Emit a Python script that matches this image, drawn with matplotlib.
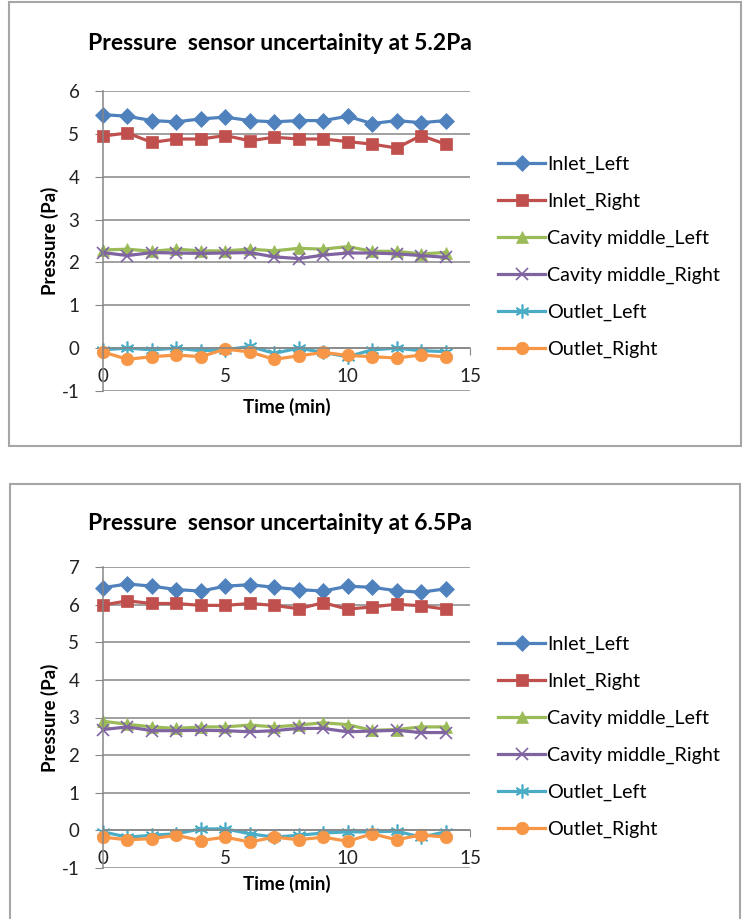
"""Dva Excel-stila grafa: nesigurnost senzora pritiska pri 5.2 Pa i 6.5 Pa."""

import matplotlib
matplotlib.use("Agg")
import matplotlib.pyplot as plt
from matplotlib.patches import Rectangle

plt.rcParams["font.family"] = ["Lato", "DejaVu Sans"]
plt.rcParams["axes.unicode_minus"] = False

vrijeme = list(range(15))
nazivi = ["Inlet_Left", "Inlet_Right", "Cavity middle_Left",
          "Cavity middle_Right", "Outlet_Left", "Outlet_Right"]

# graf 1 - 5.2 Pa
p52_inlet_left = [5.45, 5.41, 5.31, 5.28, 5.35, 5.39, 5.31, 5.28, 5.31, 5.31, 5.41, 5.24, 5.31, 5.26, 5.31]
p52_inlet_right = [4.95, 5.02, 4.80, 4.88, 4.88, 4.96, 4.84, 4.92, 4.88, 4.88, 4.82, 4.76, 4.67, 4.96, 4.76]
p52_cav_left = [2.29, 2.31, 2.26, 2.31, 2.27, 2.27, 2.31, 2.27, 2.33, 2.31, 2.37, 2.26, 2.26, 2.20, 2.23]
p52_cav_right = [2.23, 2.16, 2.23, 2.22, 2.21, 2.22, 2.23, 2.13, 2.09, 2.17, 2.22, 2.22, 2.20, 2.16, 2.12]
p52_outlet_left = [-0.04, 0.0, -0.04, 0.0, -0.06, -0.04, 0.04, -0.12, 0.0, -0.10, -0.20, -0.04, 0.0, -0.06, -0.08]
p52_outlet_right = [-0.09, -0.26, -0.20, -0.16, -0.20, -0.02, -0.09, -0.26, -0.18, -0.10, -0.17, -0.20, -0.23, -0.16, -0.20]

# graf 2 - 6.5 Pa
p65_inlet_left = [6.45, 6.55, 6.49, 6.40, 6.36, 6.49, 6.53, 6.46, 6.40, 6.36, 6.49, 6.46, 6.37, 6.33, 6.42]
p65_inlet_right = [5.99, 6.10, 6.03, 6.03, 5.98, 5.98, 6.03, 5.98, 5.89, 6.05, 5.88, 5.94, 6.01, 5.97, 5.88]
p65_cav_left = [2.90, 2.82, 2.75, 2.71, 2.75, 2.75, 2.80, 2.75, 2.80, 2.86, 2.81, 2.66, 2.68, 2.75, 2.75]
p65_cav_right = [2.68, 2.75, 2.65, 2.65, 2.66, 2.65, 2.62, 2.65, 2.71, 2.71, 2.62, 2.64, 2.66, 2.60, 2.60]
p65_outlet_left = [-0.04, -0.18, -0.13, -0.09, 0.04, 0.04, -0.09, -0.18, -0.13, -0.07, -0.04, -0.04, -0.02, -0.18, -0.04]
p65_outlet_right = [-0.18, -0.25, -0.22, -0.13, -0.27, -0.18, -0.31, -0.18, -0.25, -0.18, -0.29, -0.09, -0.25, -0.12, -0.18]

boje = ["#4F81BD", "#C0504D", "#9BBB59", "#8064A2", "#4BACC6", "#F79646"]
markeri = ["D", "s", "^", "x", (6, 2, 0), "o"]
velicine = [8, 8, 8, 9, 10, 9]

W, H = 743, 919
fig = plt.figure(figsize=(W / 100, H / 100), dpi=100)


def fx(px):
    return px / W


def fy(py):
    return 1 - py / H


def nacrtaj(top_px, bot_px, ymax, serije, naslov, okvir, naslov_y, legend_y0, xlabel_y):
    fig.patches.append(Rectangle((fx(okvir[0]), fy(okvir[3])), fx(okvir[2] - okvir[0]),
                                 (okvir[3] - okvir[1]) / H, transform=fig.transFigure,
                                 fill=False, edgecolor="#a6a6a6", linewidth=1.5))
    ax = fig.add_axes([fx(103), fy(bot_px), fx(470 - 103), (bot_px - top_px) / H])
    for vals, boja, m, ms, naziv in zip(serije, boje, markeri, velicine, nazivi):
        ax.plot(vrijeme, vals, color=boja, marker=m, markersize=ms, linewidth=2.3,
                markeredgewidth=1.2 if m in ("x", (6, 2, 0)) else 0.5,
                markeredgecolor=boja, label=naziv, clip_on=False)
    ax.set_xlim(0, 15)
    ax.set_ylim(-1, ymax)
    ax.set_yticks(range(-1, ymax + 1))
    ax.set_xticks([0, 5, 10, 15])
    ax.grid(axis="y", color="#868686", linewidth=1.1)
    ax.set_axisbelow(True)
    for s in ["top", "right"]:
        ax.spines[s].set_visible(False)
    ax.spines["bottom"].set_position(("data", 0))
    for s in ["bottom", "left"]:
        ax.spines[s].set_color("#868686")
        ax.spines[s].set_linewidth(1.1)
    ax.tick_params(axis="y", length=6, color="#868686", labelsize=13.5, pad=11, labelcolor="#222222")
    ax.tick_params(axis="x", length=5, color="#868686", labelsize=13.5, pad=9, labelcolor="#222222")
    fig.text(fx(50), fy((top_px + bot_px) / 2), "Pressure (Pa)", fontsize=13.5,
             fontweight="bold", rotation=90, ha="center", va="center")
    fig.text(fx(287), fy(xlabel_y), "Time (min)", fontsize=13.5, fontweight="bold",
             ha="center", va="center")
    fig.text(fx(280), fy(naslov_y), naslov, fontsize=16.5, fontweight="bold",
             ha="center", va="center")
    fig.legend(*ax.get_legend_handles_labels(), loc="upper left",
               bbox_to_anchor=(fx(490), fy(legend_y0)), frameon=False,
               fontsize=14.2, handlelength=2.4, handletextpad=0.1,
               labelspacing=1.0, borderaxespad=0)
    return ax


nacrtaj(91, 391, 6,
        [p52_inlet_left, p52_inlet_right, p52_cav_left, p52_cav_right,
         p52_outlet_left, p52_outlet_right],
        "Pressure  sensor uncertainity at 5.2Pa", (9, 2, 741, 446), 44, 148, 407)

nacrtaj(567, 868, 7,
        [p65_inlet_left, p65_inlet_right, p65_cav_left, p65_cav_right,
         p65_outlet_left, p65_outlet_right],
        "Pressure  sensor uncertainity at 6.5Pa", (10, 484, 740, 930), 523, 628, 884)

fig.savefig("out.png", dpi=100, facecolor="white")
